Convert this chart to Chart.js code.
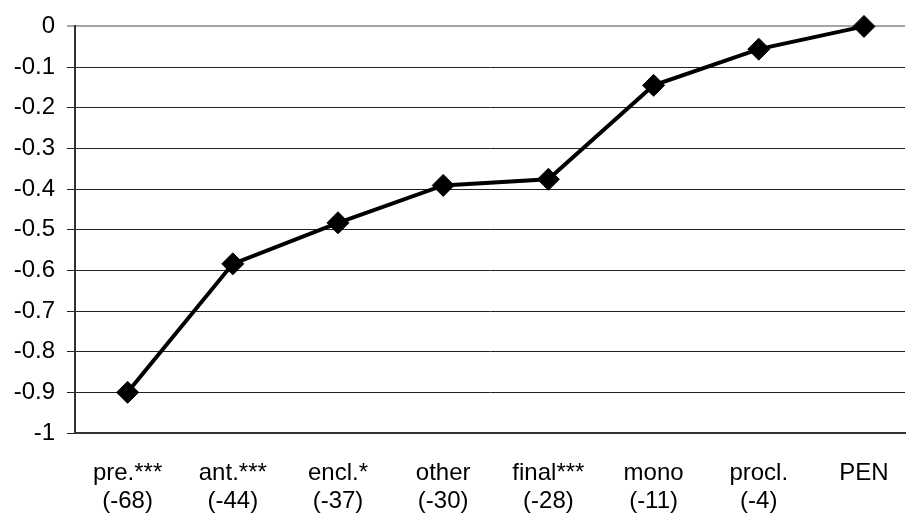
<!DOCTYPE html>
<html>
<head>
<meta charset="utf-8">
<script src="https://cdn.jsdelivr.net/npm/chart.js@4/dist/chart.umd.min.js"></script>
<style>
  html, body { margin: 0; padding: 0; background: #fff; }
  #wrap { width: 917px; height: 519px; position: relative; }
</style>
</head>
<body>
<div id="wrap"><canvas id="c"></canvas></div>
<script>
const categoryNames = ['pre.***', 'ant.***', 'encl.*', 'other', 'final***', 'mono', 'procl.', 'PEN'];
const categoryCounts = ['(-68)', '(-44)', '(-37)', '(-30)', '(-28)', '(-11)', '(-4)', ''];
const seriesValues = [-0.9, -0.584, -0.483, -0.391, -0.376, -0.145, -0.056, 0];
const yTicks = [0, -0.1, -0.2, -0.3, -0.4, -0.5, -0.6, -0.7, -0.8, -0.9, -1];

const FONT = "'Liberation Sans', Arial, sans-serif";

const points = seriesValues.map((v, i) => ({ x: i, y: v }));

new Chart(document.getElementById('c'), {
  type: 'line',
  data: {
    datasets: [{
      data: points,
      borderColor: '#000',
      backgroundColor: '#000',
      borderWidth: 4,
      pointStyle: 'rectRot',
      pointRadius: 11,
      pointBorderWidth: 1,
      pointBackgroundColor: '#000',
      pointBorderColor: '#000',
      tension: 0,
      clip: false
    }]
  },
  options: {
    responsive: true,
    maintainAspectRatio: false,
    animation: false,
    layout: { padding: { top: 24, right: 0, left: 0, bottom: 0 } },
    plugins: { legend: { display: false }, tooltip: { enabled: false } },
    scales: {
      x: {
        type: 'linear',
        min: -0.5,
        max: 7.39,
        afterBuildTicks: (scale) => { scale.ticks = categoryNames.map((_, i) => ({ value: i })); },
        afterFit: (scale) => { scale.height = 86; scale.paddingLeft = 0; scale.paddingRight = 0; },
        grid: { drawOnChartArea: false, drawTicks: false },
        border: { display: true, color: '#333', width: 2 },
        ticks: {
          autoSkip: false,
          maxRotation: 0,
          minRotation: 0,
          padding: 26,
          color: '#000',
          font: { family: FONT, size: 24, lineHeight: 1.17 },
          callback: (value) => {
            const i = Math.round(value);
            return categoryCounts[i] ? [categoryNames[i], categoryCounts[i]] : categoryNames[i];
          }
        }
      },
      y: {
        min: -1,
        max: 0,
        afterBuildTicks: (scale) => { scale.ticks = yTicks.map(v => ({ value: v })); },
        afterFit: (scale) => { scale.width = 75; },
        grid: {
          color: (ctx) => (ctx.tick && ctx.tick.value === 0) ? '#a6a6a6' : '#222',
          lineWidth: (ctx) => (ctx.tick && ctx.tick.value === 0) ? 2 : 1,
          tickLength: 8,
          drawTicks: true
        },
        border: { display: true, color: '#333', width: 2 },
        ticks: {
          padding: 12,
          color: '#000',
          font: { family: FONT, size: 24 },
          callback: (value) => String(Math.round(value * 10) / 10)
        }
      }
    }
  }
});
</script>
</body>
</html>
